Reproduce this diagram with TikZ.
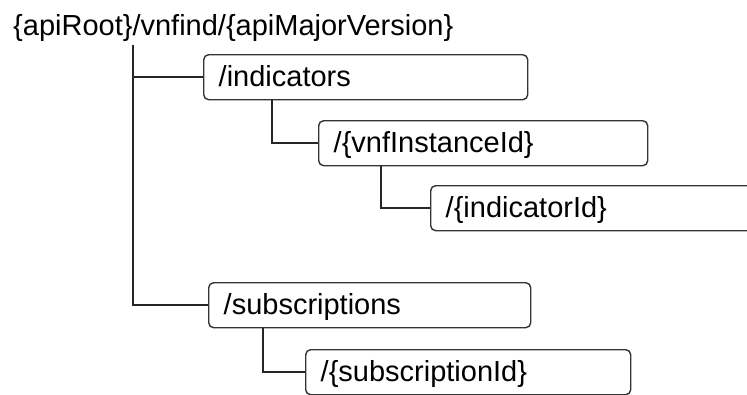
\documentclass[tikz,border=0pt]{standalone}
\usepackage{fontspec}
\setmainfont{Liberation Sans}
\begin{document}
\begin{tikzpicture}[x=1pt,y=-1pt,
  box/.style={draw=black!80, line width=1.4pt, rounded corners=5pt, anchor=north west,
    minimum height=45pt, inner xsep=15pt, inner ysep=0pt, align=left,
    text height=22pt, text depth=3pt, font=\fontsize{29}{34}\selectfont},
  conn/.style={draw=black!85, line width=1.6pt},
  lbl/.style={anchor=base west, inner sep=0pt, font=\fontsize{29}{34}\selectfont}]
\clip (0,0) rectangle (747,394);
\node[lbl] (root) at (13,35) {\{apiRoot\}/vnfind/\{apiMajorVersion\}};
\node[box, text width=294pt] (ind) at (203,54) {/indicators};
\node[box, text width=299pt] (vnf) at (318,120) {/\{vnfInstanceId\}};
\node[box, text width=330pt] (indid) at (430,185) {/\{indicatorId\}};
\node[box, text width=292pt] (sub) at (208,282) {/subscriptions};
\node[box, text width=295pt] (subid) at (305,349) {/\{subscriptionId\}};
\coordinate (r) at (133,45);
\draw[conn] (r) |- (ind.west);
\draw[conn] (r) |- (sub.west);
\draw[conn] ([xshift=69pt]ind.south west) |- (vnf.west);
\draw[conn] ([xshift=63pt]vnf.south west) |- (indid.west);
\draw[conn] ([xshift=55pt]sub.south west) |- (subid.west);
\end{tikzpicture}
\end{document}
